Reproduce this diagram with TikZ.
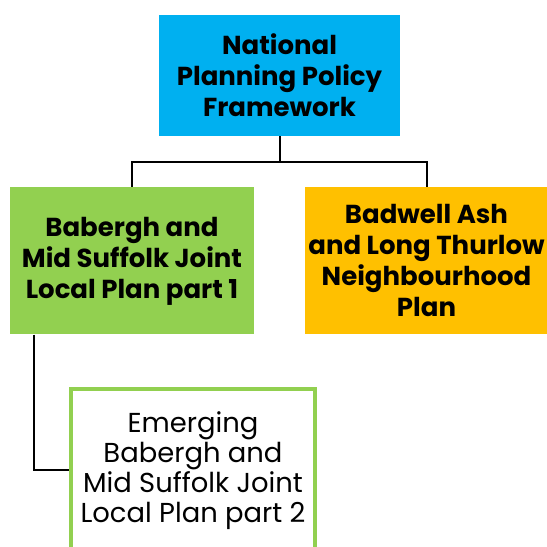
\documentclass[tikz,border=0pt]{standalone}
\usepackage{fontspec}
\setmainfont{Poppins}
\usetikzlibrary{positioning}
\definecolor{nppfblue}{HTML}{00B0F0}
\definecolor{plangreen}{HTML}{92D050}
\definecolor{planorange}{HTML}{FFC000}

\begin{document}
\begin{tikzpicture}[x=1bp, y=1bp, node distance=51bp,
    box/.style={align=center, inner sep=0pt, font=\fontsize{26bp}{31bp}\selectfont\bfseries},
    link/.style={draw=black, line width=2bp}]
    \useasboundingbox (0,0) rectangle (547,547);
    \node[box, fill=nppfblue, minimum width=241bp, minimum height=121bp] (nppf) at (279.5,471.5) {National\\Planning Policy\\Framework};
    \node[box, fill=plangreen, minimum width=243.5bp, minimum height=147bp, below=of nppf, xshift=-147.5bp] (joint1) {Babergh and\\Mid Suffolk Joint\\Local Plan part 1};
    \node[box, fill=planorange, minimum width=243.5bp, minimum height=147bp, below=of nppf, xshift=147bp] (nplan) {Badwell Ash\\and Long Thurlow\\Neighbourhood\\Plan};
    \node[box, draw=plangreen, line width=3.5bp, fill=white, font=\fontsize{27.4bp}{30bp}\selectfont, minimum width=244bp, minimum height=163bp, below=52.5bp of joint1, xshift=61bp] (joint2) {Emerging\\Babergh and\\Mid Suffolk Joint\\Local Plan part 2};

    \draw[link] (nppf.south) -- ++(0,-26) coordinate (split) -| (joint1.north);
    \draw[link] (split) -| (nplan.north);
    \draw[link] ([xshift=24bp]joint1.south west) |- (joint2.west);
\end{tikzpicture}
\end{document}
